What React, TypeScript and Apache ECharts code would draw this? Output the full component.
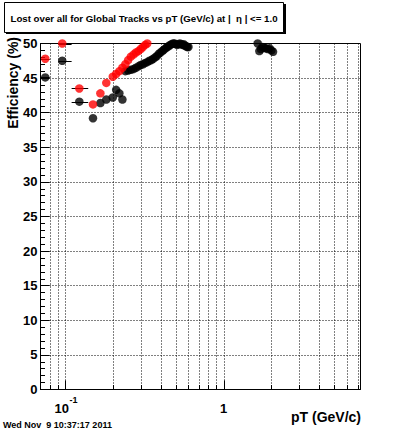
import React, { useEffect, useRef } from 'react';
import * as echarts from 'echarts';

const TITLE = 'Lost over all for Global Tracks vs pT (GeV/c) at |  η | <= 1.0';
const X_TITLE = 'pT (GeV/c)';
const Y_TITLE = 'Efficiency (%)';
const DATE_TEXT = 'Wed Nov  9 10:37:17 2011';

// Wide low-pT bins (horizontal error bars visible)
const binCenter = [0.075, 0.096, 0.123];
const binLow = [0.07, 0.091, 0.11];
const binHigh = [0.08, 0.11, 0.14];
const blackBinned = [45.1, 47.5, 41.6];
const redBinned = [47.8, 50.0, 43.5];

// Fine bins
const blackX = [
  0.15, 0.167, 0.182, 0.2, 0.21, 0.22, 0.23,
  0.24, 0.25, 0.26, 0.27, 0.28, 0.29, 0.3, 0.31, 0.32, 0.33,
  0.34, 0.35, 0.36, 0.37, 0.38, 0.39, 0.4, 0.41, 0.42, 0.43,
  0.44, 0.45, 0.46, 0.47, 0.48, 0.49, 0.5, 0.51, 0.52, 0.53,
  0.54, 0.55, 0.56, 0.57, 0.58, 0.59, 0.6,
  1.64, 1.68, 1.72, 1.76, 1.8, 1.85, 1.9, 1.95, 2.0, 2.05,
];
const blackY = [
  39.2, 41.4, 41.9, 42.2, 43.3, 42.8, 41.9,
  46.0, 46.1, 46.2, 46.3, 46.5, 46.7, 46.9, 47.0, 47.2, 47.3,
  47.5, 47.6, 47.8, 48.0, 48.2, 48.5, 48.7, 48.9, 49.1, 49.3,
  49.5, 49.6, 49.8, 49.9, 50.0, 50.0, 49.9, 49.8, 49.9, 50.0,
  49.9, 49.8, 49.9, 49.7, 49.6, 49.5, 49.5,
  50.0, 48.9, 49.2, 49.5, 49.4, 49.3, 49.2, 49.3, 49.0, 48.8,
];
const redX = [
  0.15, 0.167, 0.182, 0.2, 0.21, 0.22, 0.23, 0.24, 0.25,
  0.26, 0.27, 0.28, 0.29, 0.3, 0.31, 0.32, 0.33,
];
const redY = [
  41.2, 42.8, 44.3, 45.2, 45.6, 46.0, 46.5, 47.0, 47.6,
  48.1, 48.4, 48.7, 48.9, 49.2, 49.5, 49.8, 50.0,
];

// Axis decorations
const xGridValues = [0.08, 0.09, 0.1, 0.2, 0.3, 0.4, 0.5, 0.6, 0.7, 0.8, 0.9, 1, 2, 3, 4, 5, 6, 7];
const xMajorValues = [0.1, 1];
const xMajorBase = ['10', '1'];
const xMajorExp = ['-1', ''];

const FONT = '"Liberation Sans", Arial, Helvetica, sans-serif';

export default function App() {
  const ref = useRef<HTMLDivElement>(null);

  useEffect(() => {
    if (!ref.current) return;
    const chart = echarts.init(ref.current, undefined, { renderer: 'svg' });

    const blackData = binCenter
      .map((x, i) => [x, blackBinned[i]])
      .concat(blackX.map((x, i) => [x, blackY[i]]));
    const redData = binCenter
      .map((x, i) => [x, redBinned[i]])
      .concat(redX.map((x, i) => [x, redY[i]]));
    const errData = binCenter
      .map((_, i) => [binLow[i], binHigh[i], blackBinned[i]])
      .concat(binCenter.map((_, i) => [binLow[i], binHigh[i], redBinned[i]]));

    const option: any = {
      animation: false,
      backgroundColor: '#fff',
      grid: {
        left: 40.5,
        top: 43.5,
        width: 320,
        height: 346,
        show: true,
        borderColor: '#000',
        borderWidth: 1,
        backgroundColor: 'transparent',
      },
      xAxis: {
        type: 'log',
        logBase: 10,
        min: 0.07,
        max: 7.3,
        axisLine: { show: true, lineStyle: { color: '#000', width: 1 } },
        axisTick: { show: false },
        axisLabel: { show: false },
        splitLine: { show: false },
        minorTick: { show: false },
      },
      yAxis: {
        type: 'value',
        min: 0,
        max: 50,
        interval: 5,
        axisLine: { show: true, lineStyle: { color: '#000', width: 1 } },
        axisTick: { show: true, inside: true, length: 9, lineStyle: { color: '#000' } },
        minorTick: { show: true, splitNumber: 5, length: 4.5, lineStyle: { color: '#000' } },
        axisLabel: {
          color: '#000',
          fontFamily: FONT,
          fontWeight: 'bold',
          fontSize: 13,
          margin: 3,
        },
        splitLine: { show: true, lineStyle: { color: '#000', width: 1, type: [1, 2] } },
      },
      series: [
        {
          type: 'custom',
          z: 1,
          silent: true,
          clip: false,
          data: xGridValues.map((v) => [v, xMajorValues.indexOf(v) >= 0 ? 1 : 0]),
          renderItem: (params: any, api: any) => {
            const v = api.value(0);
            const major = api.value(1) === 1;
            const top = api.coord([v, 50]);
            const bot = api.coord([v, 0]);
            const x = Math.round(top[0]) + 0.5;
            return {
              type: 'group',
              children: [
                {
                  type: 'line',
                  shape: { x1: x, y1: top[1], x2: x, y2: bot[1] },
                  style: { stroke: '#000', lineWidth: 1, lineDash: [1, 2] },
                },
                {
                  type: 'line',
                  shape: { x1: x, y1: bot[1], x2: x, y2: bot[1] - (major ? 9 : 4.5) },
                  style: { stroke: '#000', lineWidth: 1 },
                },
              ],
            };
          },
        },
        {
          type: 'custom',
          z: 1,
          silent: true,
          clip: false,
          data: xMajorValues.map((v, i) => [v, i]),
          renderItem: (params: any, api: any) => {
            const v = api.value(0);
            const i = api.value(1);
            const p = api.coord([v, 0]);
            const exp = xMajorExp[i];
            if (!exp) {
              return {
                type: 'text',
                x: p[0],
                y: p[1] + 19,
                style: {
                  text: xMajorBase[i],
                  font: `bold 13px ${FONT}`,
                  fill: '#000',
                  align: 'center',
                  verticalAlign: 'middle',
                },
              };
            }
            return {
              type: 'group',
              children: [
                {
                  type: 'text',
                  x: p[0] + 4,
                  y: p[1] + 19,
                  style: {
                    text: xMajorBase[i],
                    font: `bold 13px ${FONT}`,
                    fill: '#000',
                    align: 'right',
                    verticalAlign: 'middle',
                  },
                },
                {
                  type: 'text',
                  x: p[0] + 4.5,
                  y: p[1] + 10,
                  style: {
                    text: exp,
                    font: `bold 9px ${FONT}`,
                    fill: '#000',
                    align: 'left',
                    verticalAlign: 'middle',
                  },
                },
              ],
            };
          },
        },
        {
          type: 'custom',
          z: 2,
          silent: true,
          clip: false,
          data: errData,
          encode: { x: [0, 1], y: 2 },
          renderItem: (params: any, api: any) => {
            const a = api.coord([api.value(0), api.value(2)]);
            const b = api.coord([api.value(1), api.value(2)]);
            const y = Math.round(a[1]) + 0.5;
            return {
              type: 'line',
              shape: { x1: a[0], y1: y, x2: b[0], y2: y },
              style: { stroke: '#000', lineWidth: 1 },
            };
          },
        },
        {
          type: 'scatter',
          z: 3,
          clip: false,
          symbol: 'circle',
          symbolSize: 8.5,
          itemStyle: { color: '#000' },
          data: blackData,
        },
        {
          type: 'scatter',
          z: 4,
          clip: false,
          symbol: 'circle',
          symbolSize: 8.5,
          itemStyle: { color: '#ff0000' },
          data: redData,
        },
      ],
      graphic: [
        { type: 'rect', shape: { x: 6, y: 4, width: 280, height: 30 }, style: { fill: '#000' }, z: 10 },
        {
          type: 'rect',
          shape: { x: 4.5, y: 2.5, width: 279, height: 30 },
          style: { fill: '#fff', stroke: '#000', lineWidth: 1 },
          z: 11,
        },
        {
          type: 'text',
          x: 144,
          y: 18,
          z: 12,
          style: {
            text: TITLE,
            font: `bold 9.7px ${FONT}`,
            fill: '#000',
            align: 'center',
            verticalAlign: 'middle',
          },
        },
        {
          type: 'text',
          x: 13,
          y: 37,
          rotation: Math.PI / 2,
          z: 12,
          style: {
            text: Y_TITLE,
            font: `bold 14px ${FONT}`,
            fill: '#000',
            align: 'right',
            verticalAlign: 'middle',
          },
        },
        {
          type: 'text',
          x: 361,
          y: 417,
          z: 12,
          style: {
            text: X_TITLE,
            font: `bold 14px ${FONT}`,
            fill: '#000',
            align: 'right',
            verticalAlign: 'middle',
          },
        },
        {
          type: 'text',
          x: 3,
          y: 425,
          z: 12,
          style: {
            text: DATE_TEXT,
            font: `bold 9px ${FONT}`,
            fill: '#000',
            align: 'left',
            verticalAlign: 'middle',
          },
        },
      ],
    };

    chart.setOption(option);
    return () => chart.dispose();
  }, []);

  return (
    <div
      ref={ref}
      style={{ position: 'fixed', left: 0, top: 0, width: 400, height: 433, background: '#fff' }}
    />
  );
}
